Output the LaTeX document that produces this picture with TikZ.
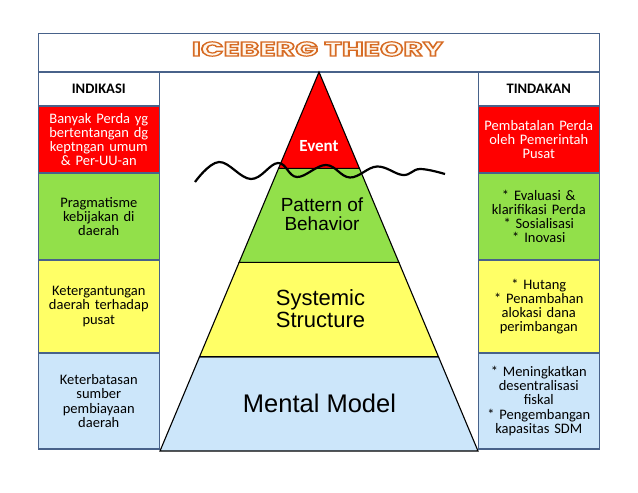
\documentclass[tikz,border=0pt]{standalone}
\usepackage{fontspec}
\setmainfont{Carlito}
\newfontfamily\arialf{Liberation Sans}
\newfontfamily\ttlfont{Poppins}
\usetikzlibrary{calc}
\definecolor{cred}{RGB}{255,0,0}
\definecolor{cgreen}{RGB}{146,224,74}
\definecolor{cyellow}{RGB}{255,255,102}
\definecolor{cblue}{RGB}{204,230,250}
\definecolor{cborder}{RGB}{72,98,138}
\newcommand\ttltext{\resizebox{251pt}{14.3pt}{\special{pdf:literal direct 2 Tr 0.6 w 0.84 0.42 0.14 RG 1 0.97 0.93 rg}\ttlfont\bfseries ICEBERG THEORY\special{pdf:literal direct 0 Tr 0 g 0 G}}}
\begin{document}
\begin{tikzpicture}[x=1pt,y=-1pt,
  colbox/.style={draw=cborder, line width=1.3pt, minimum width=121pt, inner sep=1pt,
    text width=118pt, align=center, font=\fontsize{14.5}{14.2}\selectfont},
  headbox/.style={colbox, fill=white, minimum height=34pt, font=\fontsize{14.5}{14.5}\selectfont\bfseries},
  band/.style={draw=black, line width=1.1pt},
  pyrtext/.style={align=center, font=\arialf\fontsize{#1}{#1}\selectfont},
  wave/.style={draw=black, line width=2.2pt}]
\useasboundingbox[fill=white] (0,0) rectangle (638,493);

% title bar
\node[draw=cborder, line width=1.3pt, minimum width=561pt, minimum height=38.7pt, inner sep=0pt] (tbox) at (318.8,52.7) {};
\node[inner sep=0pt] (ttl) at (317.5,49) {\ttltext};

% left column
\node[headbox] (lh) at (98.8,89) {INDIKASI};
\node[colbox, fill=cred, text=white, minimum height=67pt] (l1) at (98.8,139.5) {Banyak Perda yg\\bertentangan dg\\keptngan umum\\\& Per-UU-an};
\node[colbox, fill=cgreen, minimum height=87pt] (l2) at (98.8,216.5) {Pragmatisme\\kebijakan di\\daerah};
\node[colbox, fill=cyellow, minimum height=93pt] (l3) at (98.8,306.5) {Ketergantungan\\daerah terhadap\\pusat};
\node[colbox, fill=cblue, minimum height=96pt] (l4) at (98.8,401) {Keterbatasan\\sumber\\pembiayaan\\daerah};

% right column
\node[headbox] (rh) at (538.8,89) {TINDAKAN};
\node[colbox, fill=cred, text=white, minimum height=67pt] (r1) at (538.8,139.5) {Pembatalan Perda\\oleh Pemerintah\\Pusat};
\node[colbox, fill=cgreen, minimum height=87pt] (r2) at (538.8,216.5) {{*} Evaluasi \&\\klarifikasi Perda\\{*} Sosialisasi\\{*} Inovasi};
\node[colbox, fill=cyellow, minimum height=93pt] (r3) at (538.8,306.5) {{*} Hutang\\{*} Penambahan\\alokasi dana\\perimbangan};
\node[colbox, fill=cblue, minimum height=96pt] (r4) at (538.8,401) {{*} Meningkatkan\\desentralisasi\\fiskal\\{*} Pengembangan\\kapasitas SDM};

% pyramid
\coordinate (A) at (319,72);
\coordinate (BL) at (160,451);
\coordinate (BR) at (478,451);
\coordinate (L1) at ($(A)!0.2541!(BL)$);
\coordinate (R1) at ($(A)!0.2541!(BR)$);
\coordinate (L2) at ($(A)!0.5021!(BL)$);
\coordinate (R2) at ($(A)!0.5021!(BR)$);
\coordinate (L3) at ($(A)!0.7512!(BL)$);
\coordinate (R3) at ($(A)!0.7512!(BR)$);
\filldraw[band, fill=cblue] (L3) -- (BL) -- (BR) -- (R3) -- cycle;
\filldraw[band, fill=cyellow] (L2) -- (L3) -- (R3) -- (R2) -- cycle;
\filldraw[band, fill=cgreen] (L1) -- (L2) -- (R2) -- (R1) -- cycle;
\filldraw[band, fill=cred, line join=miter] (A) -- (L1) -- (R1) -- cycle;

\node[text=white, font=\fontsize{17}{17}\selectfont\bfseries] (ev) at (319,146) {Event};
\node[pyrtext=19] (pb) at (322,214.5) {Pattern of\\Behavior};
\node[pyrtext=22] (ss) at (320.5,309) {Systemic\\Structure};
\node[pyrtext=25.5] (mm) at (319.5,403) {Mental Model};

% water line
\draw[wave] plot[smooth, tension=0.65] coordinates {(195,182) (219,162) (251,179) (278,163) (297,177) (326,165) (350,177.5) (377,166.5) (403,175) (420,169) (445,174)};
\end{tikzpicture}
\end{document}
